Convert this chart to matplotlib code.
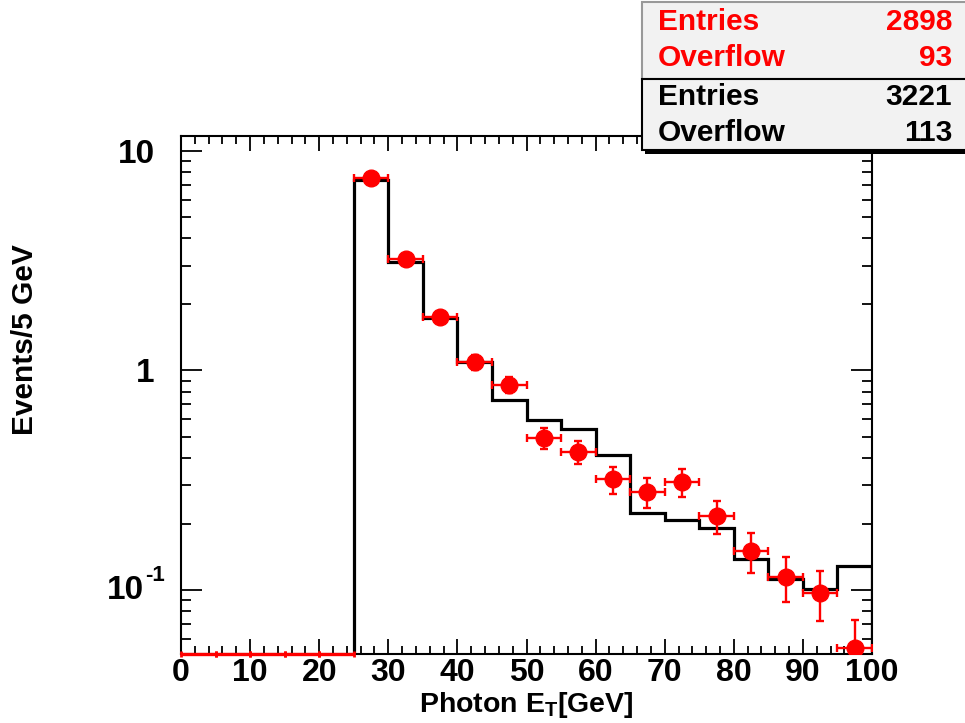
import numpy as np
import matplotlib
matplotlib.use('Agg')
import matplotlib.pyplot as plt
from matplotlib.patches import Rectangle
from matplotlib.transforms import blended_transform_factory, offset_copy
from matplotlib.ticker import FixedLocator, FixedFormatter, MultipleLocator, LogLocator

plt.rcParams['font.family'] = ['Liberation Sans', 'DejaVu Sans']
plt.rcParams['font.weight'] = 'bold'
plt.rcParams['mathtext.fontset'] = 'custom'
plt.rcParams['mathtext.bf'] = 'Liberation Sans:bold'
plt.rcParams['mathtext.rm'] = 'Liberation Sans:bold'
plt.rcParams['mathtext.default'] = 'bf'

# bins of 5 GeV from 0 to 100
bin_edges = np.arange(0, 105, 5)
# black histogram (events / 5 GeV), zero below 25 GeV
mc_values = [0, 0, 0, 0, 0, 7.38, 3.13, 1.74, 1.09, 0.734, 0.596, 0.541,
             0.411, 0.2245, 0.2085, 0.192, 0.139, 0.1127, 0.1014, 0.1286]
# red points
data_values = [0, 0, 0, 0, 0, 7.52, 3.21, 1.75, 1.09, 0.862, 0.493, 0.426,
               0.319, 0.280, 0.311, 0.217, 0.151, 0.115, 0.0969, 0.0543]
data_errors = [0, 0, 0, 0, 0, 0.220, 0.144, 0.106, 0.084, 0.075, 0.056, 0.052,
               0.045, 0.043, 0.045, 0.037, 0.031, 0.027, 0.025, 0.019]

stats_red = [('Entries', '2898'), ('Overflow', '93')]
stats_black = [('Entries', '3221'), ('Overflow', '113')]

ymin, ymax = 0.0511, 11.7

fig = plt.figure(figsize=(9.65, 7.23), dpi=100)
ax = fig.add_axes([0.1876, 0.0954, 0.716, 0.7165])
ax.set_yscale('log')
ax.set_xlim(0, 100)
ax.set_ylim(ymin, ymax)

edges = np.array(bin_edges, dtype=float)
centers = 0.5 * (edges[:-1] + edges[1:])
mc = np.array(mc_values)
dv = np.array(data_values)
de = np.array(data_errors)

first = np.argmax(mc > 0)
ax.stairs(mc[first:], edges[first:], baseline=ymin, color='black', lw=2.3, zorder=2)

nz = dv > 0
ax.errorbar(centers[nz], dv[nz], xerr=2.5, yerr=de[nz], fmt='o', color='red',
            ms=12, elinewidth=1.7, capsize=3, capthick=1.7, zorder=3)
# empty bins drawn on the bottom edge
ax.errorbar(centers[~nz], np.full((~nz).sum(), ymin), xerr=2.5, fmt='none',
            ecolor='red', elinewidth=2.4, capsize=2.5, capthick=2, clip_on=False, zorder=4)

ax.xaxis.set_major_locator(MultipleLocator(10))
ax.xaxis.set_minor_locator(MultipleLocator(2))
ax.yaxis.set_major_locator(FixedLocator([0.1, 1, 10]))
ax.yaxis.set_major_formatter(FixedFormatter(['', '1', '10']))
ax.yaxis.set_minor_locator(LogLocator(base=10, subs=np.arange(2, 10)))
ax.yaxis.set_minor_formatter(FixedFormatter([]))

ax.tick_params(axis='both', which='both', direction='in', top=True, right=True, width=1.3)
ax.tick_params(axis='x', which='major', length=11, labelsize=23, pad=3)
ax.tick_params(axis='x', which='minor', length=5.5)
ax.tick_params(axis='y', which='major', length=15, labelsize=24, pad=19)
ax.tick_params(axis='y', which='minor', length=7.5)
for lab in ax.get_xticklabels() + ax.get_yticklabels():
    lab.set_fontweight('bold')
for s in ax.spines.values():
    s.set_linewidth(1.5)

# 10^-1 label, written ROOT style with a plain hyphen
tr = blended_transform_factory(ax.transAxes, ax.transData)
ax.text(-0.0535, 0.1, '10', transform=tr, ha='right', va='center',
        fontsize=24, fontweight='bold', clip_on=False)
ax.text(-0.0535, 0.1, '-1', transform=offset_copy(tr, fig=fig, x=1, y=15, units='dots'),
        ha='left', va='center', fontsize=16, fontweight='bold', clip_on=False)

ax.set_xlabel(r'Photon E$_\mathbf{T}$[GeV]', fontsize=20.5, fontweight='bold')
ax.xaxis.set_label_coords(0.5, -0.0695)
ax.xaxis.label.set_verticalalignment('top')
ax.set_ylabel('Events/5 GeV', fontsize=21.5, fontweight='bold')
ax.yaxis.set_label_coords(-0.2055, 0.606)

# stats boxes
W, H = 965.0, 723.0
def box(x0, y0, x1, y1, edge):
    fig.patches.append(Rectangle((x0 / W, 1 - y1 / H), (x1 - x0) / W, (y1 - y0) / H,
                                 transform=fig.transFigure, facecolor='#f2f2f2',
                                 edgecolor=edge, lw=1.5, zorder=5))

fig.patches.append(Rectangle((645 / W, 1 - 154 / H), 330 / W, 76 / H,
                             transform=fig.transFigure, facecolor='black', zorder=4))
box(642, 2, 980, 79, '#999999')
box(642, 79, 980, 150, 'black')

rows_y = [22, 58, 97, 133]
for (name, val), y, col in zip(stats_red + stats_black, rows_y,
                               ['red', 'red', 'black', 'black']):
    fig.text(658 / W, 1 - y / H, name, color=col, fontsize=21.5, fontweight='bold',
             ha='left', va='center', zorder=6)
    fig.text(952 / W, 1 - y / H, val, color=col, fontsize=21.5, fontweight='bold',
             ha='right', va='center', zorder=6)

fig.savefig('out.png', dpi=100)
